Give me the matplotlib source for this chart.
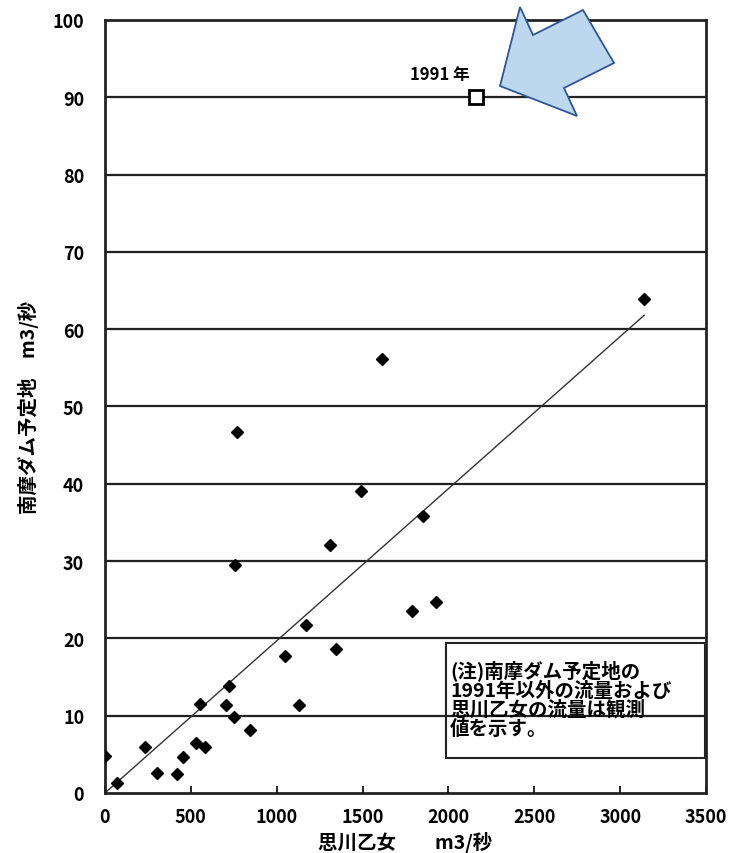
import matplotlib
matplotlib.use("Agg")
import matplotlib.pyplot as plt
from matplotlib.patches import Polygon, Rectangle

plt.rcParams['font.family'] = ['Noto Sans CJK JP', 'DejaVu Sans']
plt.rcParams['font.weight'] = 'bold'

# observed flows: 思川乙女 (x) vs 南摩ダム予定地 (y), m3/s
otome_flow = [0, 72, 233, 301, 422, 453, 531, 583, 554, 704, 723, 754, 842,
              1050, 1128, 1173, 1347, 768, 758, 1309, 1493, 1614, 1853,
              1785, 1929, 3140]
nanma_flow = [4.8, 1.3, 6.0, 2.6, 2.5, 4.7, 6.4, 5.9, 11.5, 11.4, 13.9, 9.8, 8.2,
              17.7, 11.4, 21.7, 18.6, 46.7, 29.5, 32.1, 39.0, 56.1, 35.8,
              23.5, 24.7, 63.9]

# 1991 value
year1991_x = [2160]
year1991_y = [90]

# fitted line end points
fit_x = [0, 3140]
fit_y = [0, 61.8]

x_ticks = [0, 500, 1000, 1500, 2000, 2500, 3000, 3500]
y_ticks = [0, 10, 20, 30, 40, 50, 60, 70, 80, 90, 100]

fig = plt.figure(figsize=(7.33, 8.54), dpi=100, facecolor="white")
ax = fig.add_axes([0.1432, 0.0703, 0.8200, 0.9052])

# horizontal grid lines
for yv in y_ticks[1:-1]:
    ax.axhline(yv, color="#222222", lw=1.6, zorder=1)

ax.plot(fit_x, fit_y, color="#333333", lw=1.0, zorder=2)
ax.plot(otome_flow, nanma_flow, linestyle="none", marker="D", ms=6.5,
        color="black", zorder=3)
ax.plot(year1991_x, year1991_y, linestyle="none", marker="s", ms=10,
        mfc="white", mec="black", mew=2, zorder=4)
ax.text(1950, 93, "1991 年", ha="center", va="center", fontsize=12,
        fontweight="bold")

ax.set_xlim(0, 3500)
ax.set_ylim(0, 100)
ax.set_xticks(x_ticks)
ax.set_yticks(y_ticks)
ax.tick_params(axis="both", direction="in", length=5, width=1.2,
               labelsize=13)
ax.tick_params(axis="x", pad=10)
ax.tick_params(axis="y", pad=15, length=0)
for s in ax.spines.values():
    s.set_linewidth(2)
    s.set_color("#222222")

ax.set_xlabel("思川乙女　　m3/秒", fontsize=14, fontweight="bold", labelpad=4)
ax.set_ylabel("南摩ダム予定地　m3/秒", fontsize=14, fontweight="bold", labelpad=10)

# note box
ax.add_patch(Rectangle((1987, 4.5), 1507, 14.9, fill=False, edgecolor="#222222",
                       lw=1.5, zorder=5))
ax.text(2010, 17.3, "(注)南摩ダム予定地の\n1991年以外の流量および\n思川乙女の流量は観測\n値を示す。",
        ha="left", va="top", fontsize=14, fontweight="bold", linespacing=1.0,
        zorder=6)

# big blue arrow pointing at the 1991 value (figure pixels)
arrow_px = [(500, 87), (520, 8), (533, 36), (583, 11), (614, 64), (564, 89), (577, 117)]
W, H = 733, 854
arrow = Polygon([(x / W, 1 - y / H) for x, y in arrow_px], closed=True,
                facecolor="#BDD7EE", edgecolor="#2F5597", lw=1.3,
                transform=fig.transFigure, zorder=10)
fig.patches.append(arrow)

plt.savefig("out.png", dpi=100)
